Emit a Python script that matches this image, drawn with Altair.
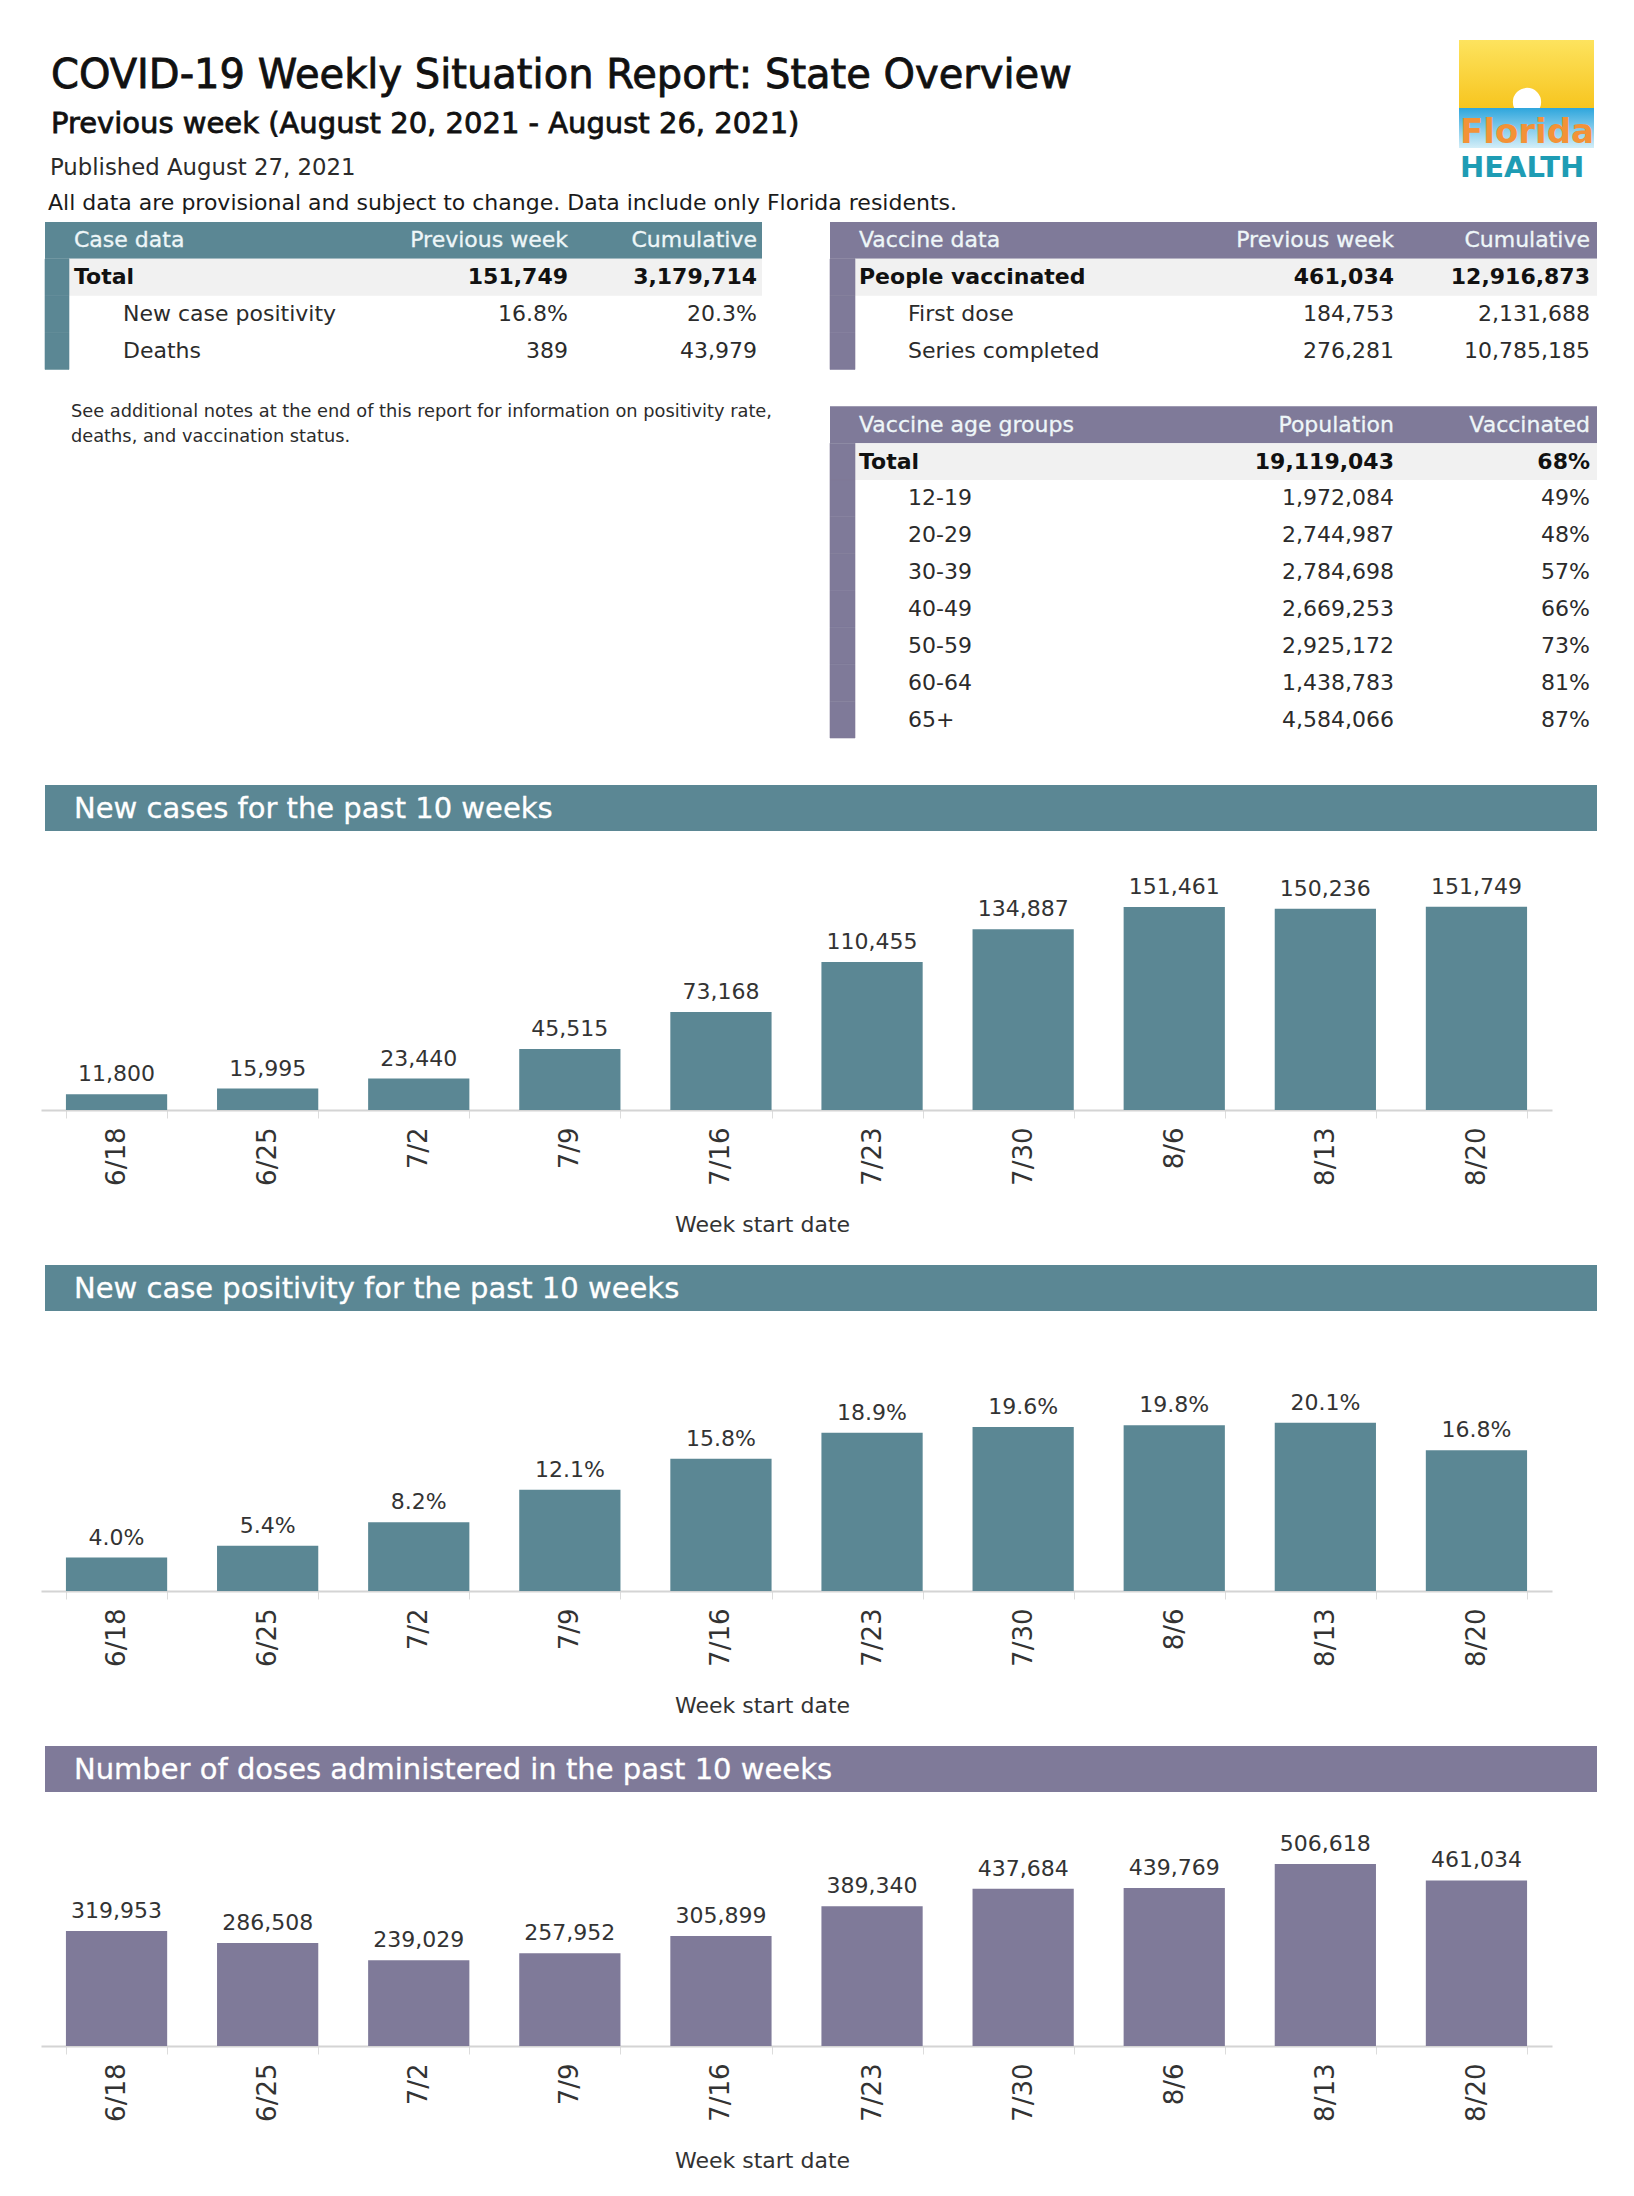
import altair as alt
import pandas as pd

FONT = "DejaVu Sans"
TEAL = "#5b8794"
PURPLE = "#7f7a99"
ROWBG = "#f1f1f1"
TXT = "#2b2b2b"
HDRTXT = "#eef6f8"

# ---------------- text content ----------------
title_text = "COVID-19 Weekly Situation Report: State Overview"
subtitle_text = "Previous week (August 20, 2021 - August 26, 2021)"
published_text = "Published August 27, 2021"
disclaimer_text = "All data are provisional and subject to change. Data include only Florida residents."
notes_lines = ["See additional notes at the end of this report for information on positivity rate,",
               "deaths, and vaccination status."]

# ---------------- table data ----------------
case_header = ["Case data", "Previous week", "Cumulative"]
case_labels = ["Total", "New case positivity", "Deaths"]
case_prev = ["151,749", "16.8%", "389"]
case_cum = ["3,179,714", "20.3%", "43,979"]

vacc_header = ["Vaccine data", "Previous week", "Cumulative"]
vacc_labels = ["People vaccinated", "First dose", "Series completed"]
vacc_prev = [461034, 184753, 276281]
vacc_cum = [12916873, 2131688, 10785185]

age_header = ["Vaccine age groups", "Population", "Vaccinated"]
age_groups = ["Total", "12-19", "20-29", "30-39", "40-49", "50-59", "60-64", "65+"]
age_pop = [19119043, 1972084, 2744987, 2784698, 2669253, 2925172, 1438783, 4584066]
age_pct = [68, 49, 48, 57, 66, 73, 81, 87]

# ---------------- chart data ----------------
weeks = ["6/18", "6/25", "7/2", "7/9", "7/16", "7/23", "7/30", "8/6", "8/13", "8/20"]
new_cases = [11800, 15995, 23440, 45515, 73168, 110455, 134887, 151461, 150236, 151749]
positivity = [4.0, 5.4, 8.2, 12.1, 15.8, 18.9, 19.6, 19.8, 20.1, 16.8]
doses = [319953, 286508, 239029, 257952, 305899, 389340, 437684, 439769, 506618, 461034]

TOP_W = 1556
TOP_H = 752
PLOT_W = 1511
RIGHT = 1556

yslot = alt.Y("slot:O", scale=alt.Scale(domain=list(range(14)), range=[214, 730],
                                       paddingInner=0, paddingOuter=0), axis=None)


def txt(s, x, y, size, color=TXT, weight="normal", align="left", stroke=None, sw=0.0, font=FONT):
    kw = dict(align=align, baseline="alphabetic", font=font, fontSize=size, color=color, fontWeight=weight)
    if stroke:
        kw.update(stroke=stroke, strokeWidth=sw)
    return alt.Chart(pd.DataFrame({"t": [s]})).mark_text(**kw).encode(
        text="t:N", x=alt.value(x), y=alt.value(y))


def table(header, labels, c1, c2, slot0, x0, x1, stripe_w, color, lab_x, sub_x, c1_x, c2_x, fs=22):
    n = len(labels)
    rows = pd.DataFrame({"slot": [slot0 + 1 + i for i in range(n)], "label": labels,
                         "c1": c1, "c2": c2})
    hdr = pd.DataFrame({"slot": [slot0], "label": [header[0]], "c1": [header[1]], "c2": [header[2]]})
    L = []
    L.append(alt.Chart(hdr).mark_rect(color=color).encode(y=yslot, x=alt.value(x0), x2=alt.value(x1)))
    L.append(alt.Chart(rows.iloc[:1]).mark_rect(color=ROWBG).encode(
        y=yslot, x=alt.value(x0 + stripe_w), x2=alt.value(x1)))
    L.append(alt.Chart(rows).mark_rect(color=color, stroke=color, strokeWidth=0.6).encode(
        y=yslot, x=alt.value(x0), x2=alt.value(x0 + stripe_w)))
    for f, xx, al in [("label", lab_x, "left"), ("c1", c1_x, "right"), ("c2", c2_x, "right")]:
        L.append(alt.Chart(hdr).mark_text(align=al, font=FONT, fontSize=fs, color=HDRTXT,
                                          stroke=HDRTXT, strokeWidth=0.3).encode(
            y=yslot, x=alt.value(xx), text=f + ":N"))
        L.append(alt.Chart(rows.iloc[:1]).mark_text(align=al, font=FONT, fontSize=fs, color="#111",
                                                    fontWeight="bold").encode(
            y=yslot, x=alt.value(xx), text=f + ":N"))
        L.append(alt.Chart(rows.iloc[1:]).mark_text(align=al, font=FONT, fontSize=fs, color=TXT).encode(
            y=yslot, x=alt.value(sub_x if f == "label" else xx), text=f + ":N"))
    return L


fmt = lambda v: f"{v:,}"

top_layers = []
# header texts
top_layers.append(txt(title_text, 10, 80, 40, "#111", stroke="#111", sw=0.8))
top_layers.append(txt(subtitle_text, 10, 125, 29, "#111", stroke="#111", sw=0.8))
top_layers.append(txt(published_text, 9, 167, 22.8, TXT))
top_layers.append(txt(disclaimer_text, 7, 202, 22, "#1a1a1a"))
top_layers.append(txt(notes_lines[0], 30, 409, 17.8, TXT))
top_layers.append(txt(notes_lines[1], 30, 434, 17.8, TXT))

# logo (decorative)
yellow = alt.LinearGradient(gradient="linear", x1=0, x2=0, y1=0, y2=1,
                            stops=[alt.GradientStop(color="#fde35e", offset=0),
                                   alt.GradientStop(color="#f7c51f", offset=1)])
blue = alt.LinearGradient(gradient="linear", x1=0, x2=0, y1=0, y2=1,
                          stops=[alt.GradientStop(color="#2ea6dd", offset=0),
                                 alt.GradientStop(color="#d3eef8", offset=1)])
dummy = pd.DataFrame({"t": ["logo"]})
top_layers.append(alt.Chart(dummy).mark_rect(color=yellow).encode(
    x=alt.value(1418), x2=alt.value(1553), y=alt.value(32), y2=alt.value(100)))
top_layers.append(alt.Chart(dummy).mark_circle(color="white", size=800, opacity=1).encode(
    x=alt.value(1486), y=alt.value(94)))
top_layers.append(alt.Chart(dummy).mark_rect(color=blue).encode(
    x=alt.value(1418), x2=alt.value(1553), y=alt.value(100), y2=alt.value(140)))
top_layers.append(txt("Florida", 1419, 135, 34, "#f39237", weight="bold"))
top_layers.append(txt("HEALTH", 1419, 169, 29, "#1e9cb4", weight="bold"))

# tables
top_layers += table(case_header, case_labels, case_prev, case_cum, 0,
                    4, 721, 24, TEAL, 33, 82, 527, 716)
top_layers += table(vacc_header, vacc_labels, [fmt(v) for v in vacc_prev], [fmt(v) for v in vacc_cum], 0,
                    789, RIGHT, 25, PURPLE, 818, 867, 1353, 1549)
top_layers += table(age_header, age_groups, [fmt(v) for v in age_pop], [f"{v}%" for v in age_pct], 5,
                    789, RIGHT, 25, PURPLE, 818, 867, 1353, 1549)

top = alt.layer(*top_layers).properties(width=TOP_W, height=TOP_H)


def section(title, color, values, label_expr, dmax, height, header_y):
    df = pd.DataFrame({"week": weeks, "value": values})
    base = alt.Chart(df).transform_calculate(label=label_expr)
    x = alt.X("week:N", sort=weeks,
              scale=alt.Scale(paddingInner=0.33, paddingOuter=0.165),
              axis=alt.Axis(title="Week start date", labelAngle=270, labelFont=FONT, labelFontSize=26,
                            labelColor="#333", labelPadding=9, tickBand="extent", tickSize=8,
                            tickColor="#dcdcdc", domainColor="#d4d4d4", domainWidth=2, grid=False,
                            titleFont=FONT, titleFontSize=22, titleFontWeight="normal", titleColor="#333",
                            titleX=721, titleY=114, titleAlign="center", titleBaseline="middle"))
    y = alt.Y("value:Q", scale=alt.Scale(domain=[0, dmax], nice=False, zero=True), axis=None)
    bars = base.mark_bar(color=color).encode(x=x, y=y)
    labels = base.mark_text(baseline="alphabetic", dy=-13, font=FONT, fontSize=22, color="#333").encode(
        x=x, y=y, text="label:N")
    hdr = alt.Chart(pd.DataFrame({"t": [title]}))
    band = hdr.mark_rect(color=color).encode(x=alt.value(4), x2=alt.value(RIGHT),
                                             y=alt.value(header_y), y2=alt.value(header_y + 46))
    htext = hdr.mark_text(align="left", baseline="middle", font=FONT, fontSize=29, color="white",
                          stroke="white", strokeWidth=0.3).encode(
        x=alt.value(33), y=alt.value(header_y + 24), text="t:N")
    return alt.layer(band, htext, bars, labels).properties(width=PLOT_W, height=height)


sec1 = section("New cases for the past 10 weeks", TEAL, new_cases,
               "format(datum.value, ',')", 242600, 325, 0)
sec2 = section("New case positivity for the past 10 weeks", TEAL, positivity,
               "format(datum.value, '.1f') + '%'", 54.46, 456, 130)
sec3 = section("Number of doses administered in the past 10 weeks", PURPLE, doses,
               "format(datum.value, ',')", 1196955, 430, 130)

chart = alt.vconcat(top, sec1, sec2, sec3, spacing=25, bounds="flush").properties(
    padding={"left": 20, "top": 0, "right": 0, "bottom": 0},
    background="white",
).configure_view(stroke=None)

chart.save("out.html", embed_options={"renderer": "svg", "actions": False})
